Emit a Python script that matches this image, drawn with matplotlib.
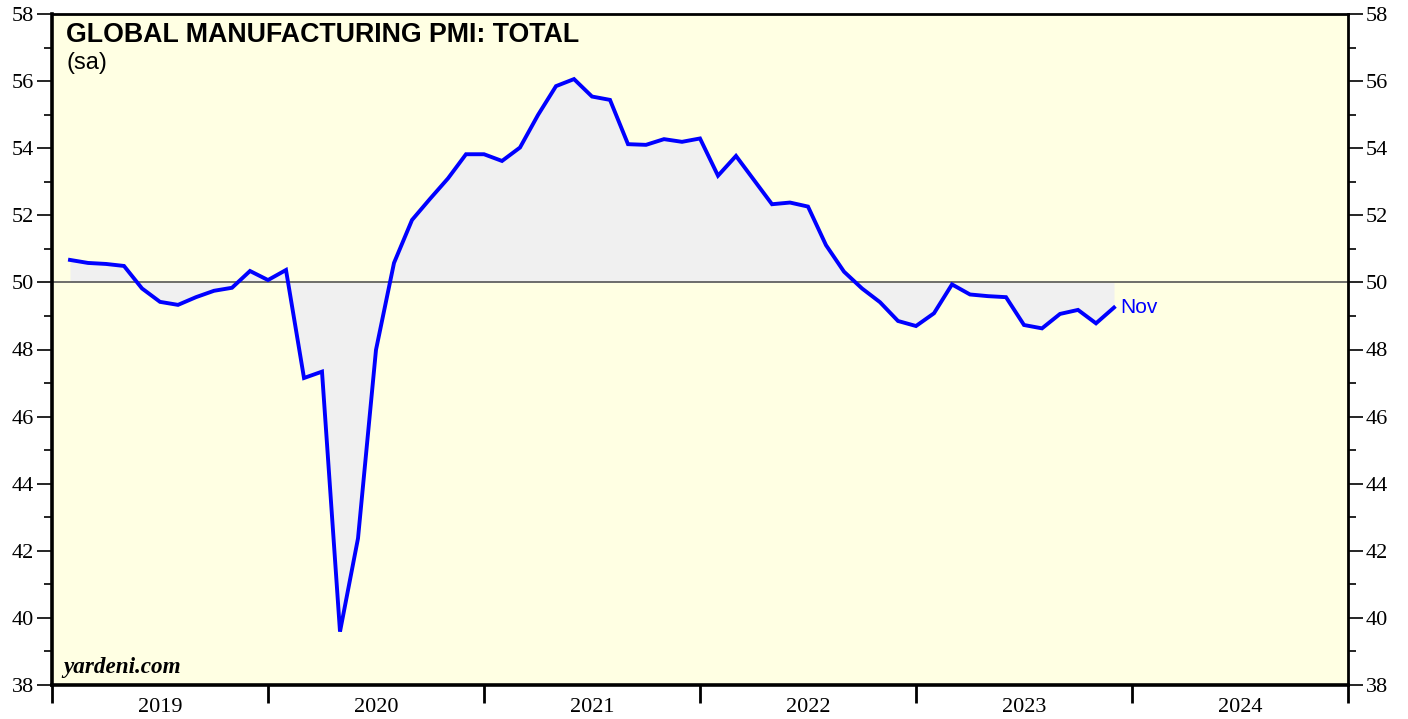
import matplotlib.pyplot as plt
import numpy as np
from matplotlib.ticker import MultipleLocator, FixedLocator

# monthly readings, Jan 2019 .. Nov 2023
pmi_2019 = [50.67, 50.58, 50.55, 50.49, 49.82, 49.42, 49.33, 49.56, 49.75, 49.84, 50.34, 50.07]
pmi_2020 = [50.37, 47.15, 47.34, 39.59, 42.37, 47.99, 50.58, 51.86, 52.49, 53.10, 53.82, 53.82]
pmi_2021 = [53.62, 54.02, 54.99, 55.85, 56.06, 55.54, 55.44, 54.12, 54.10, 54.27, 54.19, 54.29]
pmi_2022 = [53.18, 53.77, 53.05, 52.33, 52.38, 52.26, 51.11, 50.32, 49.82, 49.41, 48.85, 48.70]
pmi_2023 = [49.08, 49.94, 49.64, 49.59, 49.56, 48.73, 48.63, 49.06, 49.18, 48.78, 49.25]

pmi = np.array(pmi_2019 + pmi_2020 + pmi_2021 + pmi_2022 + pmi_2023)
years = [2019, 2020, 2021, 2022, 2023, 2024]
last_label = 'Nov'

# plotted at month end
x = 2019 + np.arange(1, len(pmi) + 1) / 12.0

fig = plt.figure(figsize=(14.08, 7.19), dpi=100)
ax = fig.add_axes([52/1408, 1 - 685/719, 1296/1408, 671/719])
ax.set_facecolor('#ffffe3')

ax.fill_between(x, pmi, 50, color='#f0f0f0', lw=0, zorder=1)
ax.axhline(50, color='#555555', lw=1.2, zorder=2)
ax.plot(x, pmi, color='#0000ff', lw=2.8, zorder=3, solid_joinstyle='miter')
ax.text(x[-1] + 0.03, pmi[-1], last_label, color='#0000ff', fontsize=15,
        family='Liberation Sans', va='center', ha='left')

ax.set_xlim(2019, 2025)
ax.set_ylim(38, 58)

# y axis, both sides
ax.yaxis.set_major_locator(MultipleLocator(2))
ax.yaxis.set_minor_locator(MultipleLocator(1))
ax.tick_params(axis='y', which='both', left=True, right=True, labelleft=True,
               labelright=True, direction='out', width=1.2, labelsize=16, pad=2)
ax.tick_params(axis='y', which='major', length=11)
ax.tick_params(axis='y', which='minor', length=6)

# x axis: year boundaries as ticks, labels centred between them
ax.xaxis.set_major_locator(FixedLocator(range(2019, 2026)))
ax.xaxis.set_minor_locator(FixedLocator([y + 0.5 for y in years]))
ax.xaxis.set_major_formatter(plt.NullFormatter())
ax.xaxis.set_minor_formatter(plt.FixedFormatter([str(y) for y in years]))
ax.tick_params(axis='x', which='major', length=13, width=2, direction='out')
ax.tick_params(axis='x', which='minor', length=0, labelsize=16, pad=9)

for lab in ax.get_xticklabels(minor=True) + ax.yaxis.get_ticklabels(which='both'):
    lab.set_family('Liberation Serif')
for lab in ax.yaxis.get_majorticklabels():
    lab.set_family('Liberation Serif')

for side in ['left', 'bottom']:
    ax.spines[side].set_linewidth(2.6)
for side in ['top', 'right']:
    ax.spines[side].set_linewidth(2.0)

ax.text(0.011, 0.988, 'GLOBAL MANUFACTURING PMI: TOTAL', transform=ax.transAxes,
        fontsize=19.3, fontweight='bold', family='Liberation Sans', va='top')
ax.text(0.011, 0.943, '(sa)', transform=ax.transAxes,
        fontsize=17, family='Liberation Sans', va='top')
ax.text(0.009, 0.01, 'yardeni.com', transform=ax.transAxes,
        fontsize=16.7, fontweight='bold', style='italic', family='Liberation Serif', va='bottom')

fig.savefig('out.png', dpi=100)
